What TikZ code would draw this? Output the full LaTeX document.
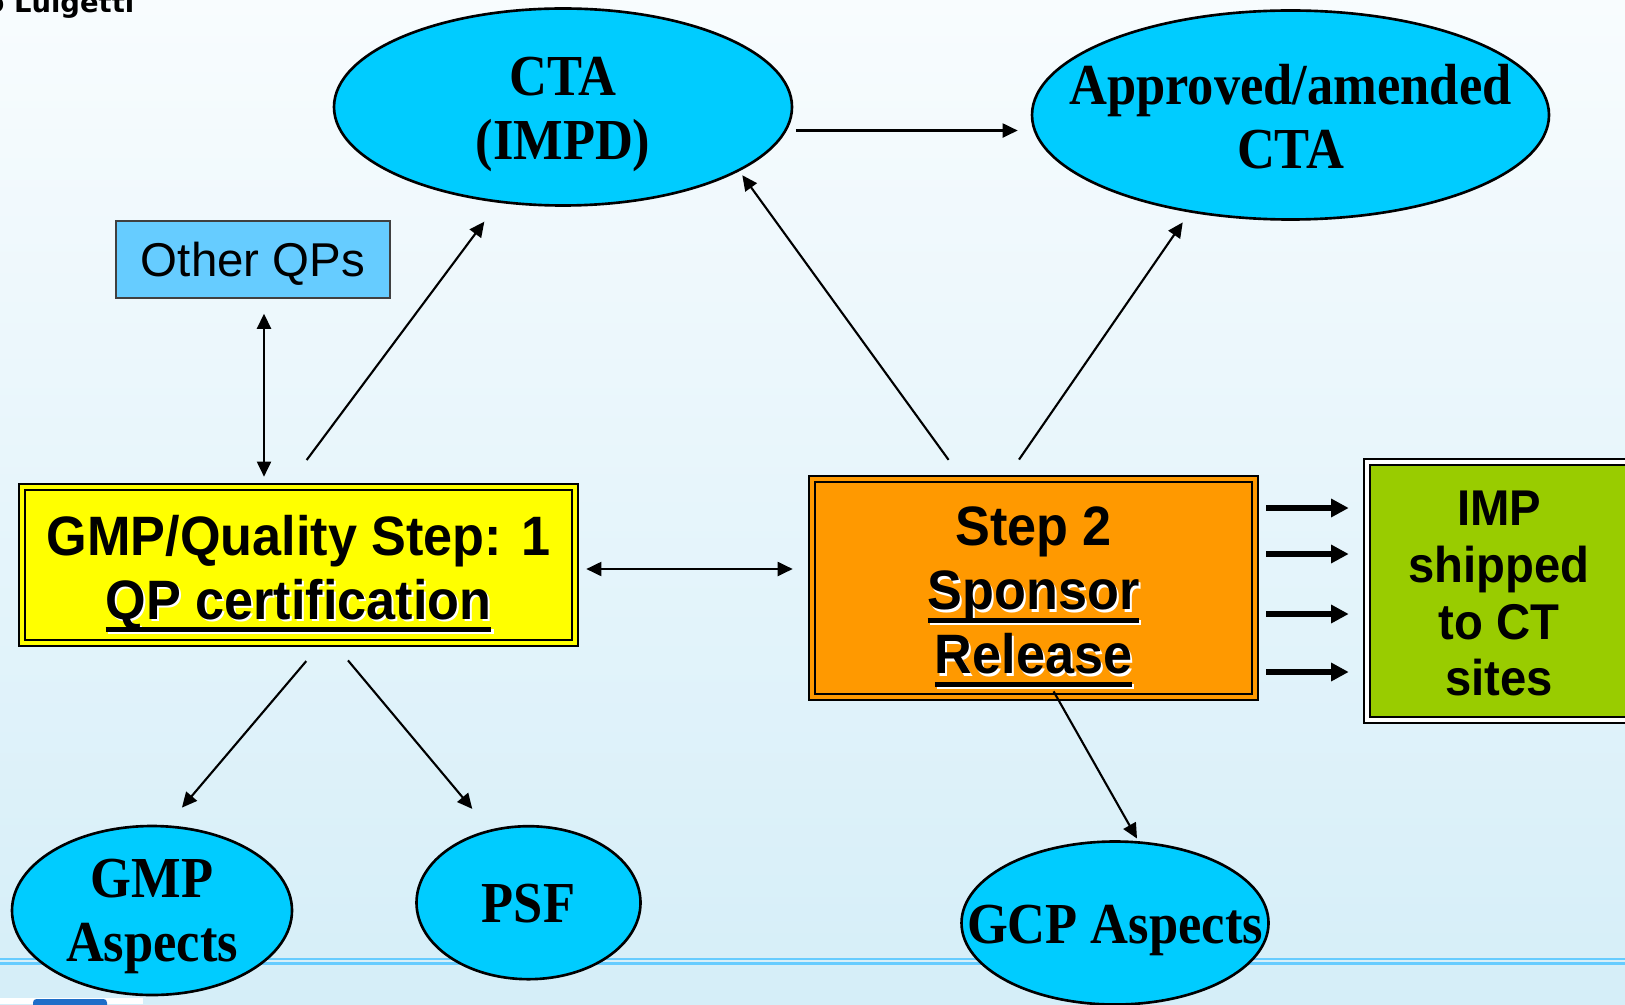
\documentclass[tikz,border=0pt]{standalone}
\usepackage{fontspec}
\setmainfont{Liberation Serif}
\setsansfont{Liberation Sans}
\newfontfamily\ovalfont{Liberation Serif}[FakeStretch=0.905]
\newfontfamily\boxfont{Liberation Sans}[FakeStretch=0.94]
\newfontfamily\hdrfont{DejaVu Sans}
\definecolor{ovalcyan}{RGB}{0,204,255}
\definecolor{qpblue}{RGB}{102,204,255}
\definecolor{gmpyellow}{RGB}{255,255,0}
\definecolor{sponsorange}{RGB}{255,153,0}
\definecolor{impgreen}{RGB}{153,204,0}
\definecolor{bgtop}{RGB}{248,252,254}
\definecolor{bgbot}{RGB}{213,238,248}
\definecolor{rulesky}{RGB}{102,204,255}
\definecolor{logoblue}{RGB}{30,110,200}
\usetikzlibrary{arrows.meta,shapes.geometric,calc}
\newcommand{\ulbar}[1]{\setbox0\hbox{#1}\rlap{\rule[-3.6pt]{\wd0}{1.4pt}}\box0}
\newcommand{\shul}[1]{\rlap{\kern0.6pt\raisebox{-0.6pt}{\color{white}\ulbar{#1}}}\ulbar{#1}}
% lines of a node, set a little lower than their box
\newcommand{\droptext}[2]{\raisebox{-#1}[\height][\depth]{\begin{tabular}{@{}c@{}}#2\end{tabular}}}
\tikzset{
  oval/.style={ellipse, draw=black, line width=0.75pt, fill=ovalcyan,
              inner xsep=-10mm, inner ysep=-5mm,
              font=\ovalfont\bfseries\fontsize{16.5}{18.2}\selectfont},
  dbox/.style={rectangle, draw=black, line width=0.75pt, double distance=0.9pt,
              inner sep=0pt, font=\boxfont\bfseries\fontsize{15.8}{18.2}\selectfont},
  qpbox/.style={rectangle, draw=black!75, line width=0.4pt, fill=qpblue,
              inner sep=0pt, font=\sffamily\fontsize{13.5}{16}\selectfont},
  link/.style={-{Triangle[length=4.3pt,width=4pt]}, line width=0.6pt},
  both/.style={{Triangle[length=4.3pt,width=4pt]}-{Triangle[length=4.3pt,width=4pt]}, line width=0.6pt},
  fat/.style={-{Triangle[length=5pt,width=5pt]}, line width=1.8pt},
}
\begin{document}
\begin{tikzpicture}[x=0.1mm,y=-0.1mm]
  \useasboundingbox (0,0) rectangle (1625,1004);
  \clip (0,0) rectangle (1625,1004);
  \shade[top color=bgtop, bottom color=bgbot] (0,0) rectangle (1625,1004);
  % slide footer
  \draw[rulesky, line width=0.6pt] (0,959) -- (1625,959) (0,963.5) -- (1625,963.5);
  \fill[white] (0,998) rectangle (143,1004);
  \fill[logoblue, rounded corners=1pt] (33,999) rectangle (107,1010);
  \node[anchor=base east, inner sep=0pt, font=\hdrfont\bfseries\fontsize{7.8}{9}\selectfont] (hdr) at (135,13) {o Luigetti};

  \node[oval, minimum width=45.8mm, minimum height=19.7mm] (cta) at (563,107) {\droptext{2.3pt}{CTA\\(IMPD)}};
  \node[oval, minimum width=51.7mm, minimum height=20.9mm] (appr) at (1290.5,115) {\droptext{2.6pt}{Approved/amended\\CTA}};
  \node[oval, minimum width=28mm, minimum height=16.9mm] (gasp) at (152,910.5) {\droptext{1.7pt}{GMP\\Aspects}};
  \node[oval, minimum width=22.4mm, minimum height=15.3mm] (psf) at (528.5,902.7) {\droptext{2.1pt}{PSF}};
  \node[oval, minimum width=30.7mm, minimum height=16.3mm] (gcp) at (1115,923) {\droptext{2.3pt}{GCP Aspects}};

  \node[qpbox, minimum width=27.4mm, minimum height=7.7mm] (oqp) at (253,259.5) {\droptext{1.6pt}{Other QPs}};
  \node[dbox, fill=gmpyellow, double=gmpyellow, minimum width=55.3mm, minimum height=15.6mm] (gmp) at (298.5,565)
    {\droptext{2.8pt}{GMP/Quality Step: 1\\\shul{QP certification}}};
  \node[dbox, fill=sponsorange, double=sponsorange, minimum width=44.3mm, minimum height=21.8mm] (spons) at (1033.5,588)
    {\droptext{2.6pt}{Step 2\\\shul{Sponsor}\\\shul{Release}}};
  \node[dbox, fill=impgreen, double=white, minimum width=26.4mm, minimum height=25.8mm,
        font=\boxfont\bfseries\fontsize{14.3}{16.1}\selectfont] (imp) at (1499,591)
    {\droptext{2.4pt}{IMP\\shipped\\to CT\\sites}};

  \draw[link, shorten <=0.9mm, shorten >=1.3mm] (cta.-6) -- (cta.-6 -| appr.west);
  \draw[link, shorten <=3.2mm, shorten >=2.35mm] ($(gmp.north)+(-11,0)$) -- (cta.236);
  \draw[link, shorten <=2.2mm, shorten >=0.5mm] ($(spons.north)+(-72,0)$) -- (cta.-20);
  \draw[link, shorten <=2.2mm, shorten >=1.2mm] ($(spons.north)+(-27,0)$) -- (appr.224);
  \coordinate (q) at ($(oqp.south)+(11,0)$);
  \draw[both, shorten <=1.5mm, shorten >=0.9mm] (q) -- (q |- gmp.north);
  \coordinate (g) at ($(gmp.east)+(0,4)$);
  \draw[both, shorten <=1mm, shorten >=1.8mm] (g) -- (g -| spons.west);
  \draw[link, shorten <=2.2mm, shorten >=2.3mm] ($(gmp.south)+(22,0)$) -- (gasp.80);
  \draw[link, shorten <=2.1mm, shorten >=2.7mm] ($(gmp.south)+(36,0)$) -- (psf.118);
  \draw[link, shorten <=-0.8mm, shorten >=0.3mm] ($(spons.south)+(24,0)$) -- (gcp.74);
  \foreach \dy in {-80,-34,26,84}{
    \coordinate (s) at ($(spons.east)+(0,\dy)$);
    \draw[fat, shorten <=1mm, shorten >=1.7mm] (s) -- (s -| imp.west);
  }
\end{tikzpicture}
\end{document}
